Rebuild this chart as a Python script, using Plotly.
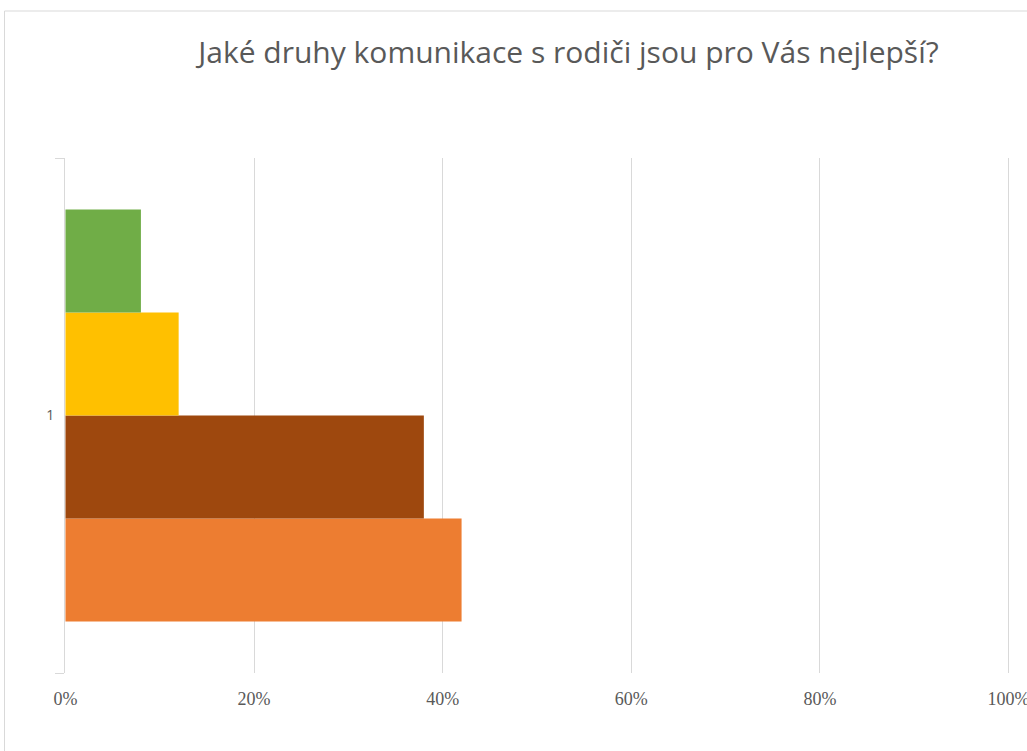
import plotly.graph_objects as go

# Survey answer shares for the single category "1"
category = ["1"]
series_names = ["Řada 1", "Řada 2", "Řada 3", "Řada 4"]
series_values = [0.42, 0.38, 0.12, 0.08]
series_colors = ["#ED7D31", "#9E480E", "#FFC000", "#70AD47"]

x_tick_values = [0, 0.2, 0.4, 0.6, 0.8, 1.0]
x_tick_labels = ["0%", "20%", "40%", "60%", "80%", "100%"]

title_text = "Jaké druhy komunikace s rodiči jsou pro Vás nejlepší?"

W, H = 1027, 751
M_L, M_R, M_T, M_B = 65, 17, 158, 78

fig = go.Figure()
for name, val, col in zip(series_names, series_values, series_colors):
    fig.add_trace(go.Bar(
        y=category, x=[val], name=name, orientation="h",
        marker=dict(color=col, line=dict(width=0)),
        hovertemplate="%{x:.0%}<extra>" + name + "</extra>",
    ))

# Light chart-area border, partly running off the right and bottom edges
pw = W - M_L - M_R
ph = H - M_T - M_B
def px_x(p):
    return (p - M_L) / pw
def px_y(p):
    return (H - M_B - p) / ph

fig.add_shape(
    type="rect", xref="paper", yref="paper",
    x0=px_x(4.5), x1=px_x(W + 20), y0=px_y(H + 20), y1=px_y(11),
    line=dict(color="#D9D9D9", width=1), fillcolor="rgba(0,0,0,0)", layer="below",
)

fig.update_layout(
    template="none",
    width=W, height=H,
    margin=dict(l=M_L, r=M_R, t=M_T, b=M_B, pad=0),
    paper_bgcolor="white", plot_bgcolor="white",
    barmode="group", bargap=0.2, bargroupgap=0,
    showlegend=False,
    title=dict(
        text=title_text, x=0.5535, xanchor="center", y=1 - 52 / H, yanchor="middle",
        font=dict(family="Open Sans, sans-serif", size=30, color="#595959"),
    ),
    xaxis=dict(
        range=[-0.0005, 1.0015], tickvals=x_tick_values, ticktext=x_tick_labels,
        showgrid=True, gridcolor="#D9D9D9", gridwidth=1,
        zeroline=False, showline=False, ticks="",
        tickfont=dict(family="Liberation Serif, serif", size=18, color="#595959"),
        ticklabelstandoff=13, ticklabeloverflow="allow",
    ),
    yaxis=dict(
        type="category", range=[-0.5, 0.5],
        showgrid=False, zeroline=False,
        showline=True, linecolor="#D9D9D9", linewidth=1,
        ticks="outside", tickson="boundaries", ticklen=9, tickcolor="#D9D9D9",
        tickfont=dict(family="Open Sans, sans-serif", size=14, color="#595959"),
        ticklabelstandoff=7,
    ),
)

fig.write_html("out.html")
